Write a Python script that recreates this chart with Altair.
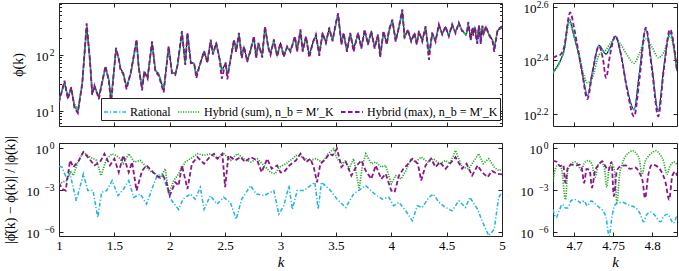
import altair as alt
import pandas as pd

FONT = "Liberation Serif"
INK = "#222222"

SERIES = ["Rational", "Hybrid (sum), n_b = M′_K", "Hybrid (max), n_b = M′_K"]
COLORS = ["#1db3e5", "#1fae1f", "#8a158a"]
DASHES = [[4, 2, 1.2, 2], [1.2, 1.3], [4.5, 2.5]]
WIDTHS = [1.5, 1.8, 2.0]

# ---------------- phi(k), full range (outside the zoom window) ----------------
K_TOP_A = [1.00, 1.05, 1.08, 1.11, 1.14, 1.17, 1.21, 1.25, 1.28, 1.30,
           1.32, 1.36, 1.39, 1.42, 1.45, 1.47, 1.515, 1.54, 1.555, 1.58,
           1.61, 1.65, 1.70, 1.72, 1.75, 1.77, 1.80, 1.84, 1.87, 1.90,
           1.945, 1.99, 2.02, 2.05, 2.07, 2.11, 2.14, 2.16, 2.19, 2.22,
           2.24, 2.28, 2.31, 2.34, 2.37, 2.39, 2.42, 2.45, 2.47, 2.505,
           2.52, 2.55, 2.58, 2.60, 2.625, 2.65, 2.67, 2.70, 2.73, 2.76,
           2.78, 2.80, 2.835, 2.86, 2.89, 2.91, 2.94, 2.97, 3.00, 3.03,
           3.06, 3.09, 3.13, 3.15, 3.18, 3.20, 3.23, 3.26, 3.29, 3.32,
           3.35, 3.38, 3.41, 3.44, 3.47, 3.50, 3.52, 3.55, 3.57, 3.60,
           3.63, 3.66, 3.70, 3.73, 3.76, 3.79, 3.82, 3.85, 3.88, 3.90,
           3.93, 3.96, 3.98, 4.01, 4.04, 4.07, 4.10, 4.12, 4.15, 4.18,
           4.21, 4.23, 4.25, 4.28, 4.31, 4.34, 4.37, 4.40, 4.43, 4.46,
           4.49, 4.52, 4.55, 4.58, 4.61, 4.64]
PHI_REF_A = [15, 32, 17, 25, 12, 9.5, 30, 330, 78, 20,
             27, 17.5, 32, 59, 35, 15, 126, 84, 56, 47,
             26, 48, 178, 59, 25, 48, 39, 165, 52, 45,
             23, 135, 48, 45, 63, 250, 68, 234, 73, 69,
             42, 73, 110, 78, 178, 104, 157, 85, 52, 69,
             42, 84, 178, 118, 234, 90, 135, 78, 118, 204,
             90, 157, 96, 307, 135, 104, 178, 96, 157, 96,
             135, 118, 204, 118, 268, 118, 204, 96, 157, 218,
             104, 234, 165, 288, 178, 355, 530, 157, 234, 118,
             234, 125, 234, 135, 268, 157, 250, 135, 218, 96,
             250, 157, 268, 405, 178, 307, 610, 204, 268, 178,
             234, 157, 250, 178, 307, 104, 234, 178, 330, 234,
             307, 218, 330, 250, 355, 268]
PHI_SUM_A = [16, 30, 18, 24, 13, 10.5, 29, 300, 80, 21,
             26, 18, 31, 60, 36, 16, 120, 86, 55, 48,
             27, 47, 170, 60, 26, 47, 40, 158, 53, 46,
             24, 130, 49, 46, 62, 240, 70, 225, 75, 68,
             44, 72, 112, 80, 170, 106, 152, 88, 54, 68,
             44, 82, 172, 120, 225, 92, 132, 80, 116, 196,
             92, 152, 98, 295, 138, 106, 172, 98, 152, 98,
             132, 120, 198, 120, 258, 120, 198, 98, 152, 210,
             106, 226, 168, 278, 180, 340, 505, 160, 228, 120,
             228, 128, 228, 138, 260, 160, 244, 138, 212, 100,
             244, 160, 260, 390, 182, 300, 585, 206, 262, 182,
             230, 160, 244, 182, 300, 110, 230, 182, 318, 236,
             300, 222, 320, 254, 345, 270]
PHI_MAX_A = [14, 34, 16, 26, 11, 9, 31, 360, 75, 19,
             28, 16, 33, 62, 34, 13, 132, 82, 54, 45,
             24, 50, 185, 57, 23, 50, 37, 172, 50, 42,
             21, 140, 46, 43, 65, 262, 65, 245, 70, 71,
             38, 75, 115, 70, 185, 100, 162, 80, 37, 72,
             36, 86, 185, 112, 244, 86, 140, 74, 122, 212,
             86, 162, 88, 320, 130, 98, 185, 92, 162, 90,
             140, 112, 212, 112, 280, 112, 212, 88, 162, 228,
             95, 244, 160, 300, 172, 370, 545, 150, 244, 112,
             244, 112, 244, 128, 280, 150, 262, 128, 228, 88,
             262, 150, 280, 420, 170, 320, 640, 196, 280, 170,
             244, 150, 262, 170, 320, 80, 244, 170, 345, 228,
             320, 210, 345, 240, 370, 260]

K_TOP_B = [4.855, 4.88, 4.915, 4.93, 4.96, 5.00]
PHI_REF_B = [307, 234, 178, 125, 268, 307]
PHI_SUM_B = [300, 236, 182, 135, 262, 300]
PHI_MAX_B = [320, 228, 170, 112, 280, 320]

# ---------------- phi(k), zoom window ----------------
K_ZOOM = [4.673, 4.681, 4.687, 4.694, 4.700, 4.706, 4.712, 4.717, 4.723, 4.732,
          4.741, 4.747, 4.753, 4.760, 4.768, 4.777, 4.783, 4.792, 4.800, 4.808,
          4.815, 4.823, 4.832]
PHI_REF_ZOOM = [226, 246, 272, 358, 309, 263, 214, 185, 223, 286,
                265, 284, 310, 265, 198, 164, 216, 328, 236, 162,
                236, 319, 229]
PHI_SUM_ZOOM = [226, 245, 272, 347, 309, 269, 224, 207, 214, 263,
                275, 292, 304, 288, 263, 245, 263, 302, 282, 257,
                269, 309, 229]
K_MAX_ZOOM = [4.673, 4.678, 4.682, 4.687, 4.695, 4.700, 4.704, 4.710, 4.717, 4.724,
              4.732, 4.737, 4.741, 4.746, 4.753, 4.760, 4.768, 4.777, 4.784, 4.792,
              4.800, 4.808, 4.815, 4.823, 4.832]
PHI_MAX_ZOOM = [257, 261, 263, 280, 380, 333, 288, 230, 180, 230,
                284, 255, 216, 262, 310, 265, 195, 155, 215, 333,
                230, 155, 230, 328, 229]

# ---------------- relative error, full range (log10 values) ----------------
K_ERR_RAT = [1.0, 1.027, 1.07, 1.10, 1.156, 1.22, 1.26, 1.307, 1.35, 1.385,
             1.43, 1.48, 1.533, 1.584, 1.63, 1.674, 1.734, 1.79, 1.84, 1.885,
             1.93, 1.98, 2.005, 2.08, 2.12, 2.186, 2.23, 2.276, 2.31, 2.366,
             2.427, 2.487, 2.547, 2.60, 2.65, 2.73, 2.78, 2.85, 2.94, 2.985,
             3.03, 3.077, 3.107, 3.15, 3.21, 3.27, 3.31, 3.34, 3.37, 3.44,
             3.51, 3.59, 3.66, 3.77, 3.85, 3.92, 3.98, 4.02, 4.07, 4.13,
             4.19, 4.235, 4.28, 4.34, 4.38, 4.43, 4.49, 4.55, 4.61, 4.67,
             4.71, 4.78, 4.82, 4.88, 4.93, 4.97, 5.0]
LOG_ERR_RAT = [-1.3, -1.37, -2.22, -1.86, -3.79, -1.86, -3.06, -3.06, -4.99, -3.18,
               -3.06, -2.34, -3.42, -2.94, -2.34, -3.54, -3.3, -4.03, -2.94, -1.98,
               -1.86, -2.94, -3.64, -4.41, -3.67, -3.3, -3.67, -2.82, -4.41, -3.42,
               -4.03, -3.54, -3.9, -5.11, -3.67, -2.7, -3.3, -3.42, -3.06, -4.75,
               -4.15, -2.7, -4.41, -3.06, -3.06, -2.7, -2.46, -4.41, -2.46, -2.94,
               -3.67, -4.27, -3.3, -2.7, -3.3, -3.67, -3.54, -4.15, -3.9, -4.51,
               -5.23, -4.15, -4.27, -3.54, -3.3, -3.9, -4.27, -4.51, -3.79, -4.27,
               -3.54, -4.41, -5.23, -6.3, -5.83, -3.54, -3.2]
K_ERR_SUM = [1.0, 1.03, 1.07, 1.10, 1.13, 1.17, 1.22, 1.28, 1.34, 1.38,
             1.43, 1.48, 1.54, 1.58, 1.63, 1.68, 1.734, 1.79, 1.82, 1.87,
             1.91, 1.96, 1.99, 2.036, 2.08, 2.14, 2.186, 2.25, 2.31, 2.37,
             2.43, 2.49, 2.55, 2.61, 2.67, 2.73, 2.79, 2.85, 2.91, 2.95,
             2.99, 3.05, 3.11, 3.14, 3.20, 3.26, 3.32, 3.38, 3.43, 3.48,
             3.51, 3.56, 3.59, 3.62, 3.66, 3.71, 3.74, 3.77, 3.82, 3.86,
             3.91, 3.95, 4.0, 4.04, 4.09, 4.13, 4.18, 4.22, 4.27, 4.33,
             4.38, 4.44, 4.49, 4.53, 4.58, 4.64, 4.70, 4.74, 4.79, 4.83,
             4.88, 4.93, 4.97, 5.0]
LOG_ERR_SUM = [-2.6, -2.46, -2.34, -1.64, -1.98, -1.01, -0.29, -0.65, -0.89, -1.98,
               -0.77, -0.41, -0.65, -1.13, -0.41, -1.01, -0.89, -1.37, -1.64, -1.86,
               -2.22, -1.49, -3.3, -2.34, -1.86, -1.01, -0.77, -0.41, -0.53, -0.41,
               -0.77, -0.41, -0.89, -0.41, -0.77, -1.01, -0.77, -1.25, -1.74, -1.86,
               -1.37, -1.13, -0.77, -0.53, -0.65, -0.89, -0.77, -1.01, -0.41, -0.05,
               -0.77, -1.13, -0.89, -1.49, -0.77, -2.94, -1.25, -0.41, -1.13, -1.01,
               -1.37, -1.25, -2.58, -1.98, -2.22, -1.64, -0.77, -1.01, -0.65, -1.01,
               -0.77, -1.13, -0.89, -1.13, -0.17, -1.37, -1.49, -1.01, -0.41, -1.13,
               -0.77, -1.37, -1.64, -1.5]
K_ERR_MAX = [1.0, 1.03, 1.06, 1.10, 1.13, 1.18, 1.22, 1.26, 1.32, 1.37,
             1.41, 1.46, 1.50, 1.54, 1.58, 1.63, 1.66, 1.70, 1.75, 1.79,
             1.85, 1.90, 1.94, 1.97, 2.0, 2.05, 2.08, 2.11, 2.16, 2.20,
             2.25, 2.31, 2.36, 2.40, 2.43, 2.475, 2.50, 2.53, 2.59, 2.64,
             2.68, 2.73, 2.79, 2.83, 2.88, 2.92, 2.97, 3.0, 3.03, 3.08,
             3.14, 3.18, 3.23, 3.27, 3.30, 3.33, 3.36, 3.41, 3.44, 3.47,
             3.51, 3.55, 3.59, 3.64, 3.69, 3.73, 3.77, 3.82, 3.86, 3.91,
             3.95, 4.0, 4.03, 4.07, 4.11, 4.14, 4.19, 4.24, 4.27, 4.31,
             4.36, 4.40, 4.44, 4.49, 4.53, 4.58, 4.64, 4.68, 4.73, 4.78,
             4.82, 4.87, 4.91, 4.96, 5.0]
LOG_ERR_MAX = [-2.5, -2.94, -3.06, -0.89, -1.37, -0.89, -0.29, -0.65, -1.25, -1.01,
               -0.41, -1.25, -0.77, -1.74, -0.53, -1.74, -1.01, -3.06, -1.64, -1.25,
               -1.74, -2.1, -1.98, -2.46, -3.42, -2.46, -2.7, -1.25, -2.94, -1.13,
               -0.65, -1.13, -0.65, -0.41, -0.77, -0.41, -2.82, -0.53, -0.89, -0.65,
               -1.01, -0.65, -0.89, -1.74, -0.77, -1.49, -1.25, -1.75, -1.74, -1.25,
               -0.89, -0.41, -1.01, -0.77, -1.37, -2.46, -1.13, -0.77, -0.41, -0.53,
               -0.05, -1.37, -1.01, -1.98, -1.25, -0.89, -1.64, -2.22, -1.25, -2.22,
               -1.86, -3.06, -3.18, -1.98, -1.49, -1.25, -0.77, -1.13, -2.34, -1.25,
               -0.77, -1.37, -1.01, -1.49, -1.13, -0.65, -1.49, -1.13, -1.98, -1.25,
               -1.74, -2.1, -1.64, -1.86, -1.9]

# ---------------- relative error, zoom window (log10 values) ----------------
K_ZERR_RAT = [4.673, 4.677, 4.681, 4.685, 4.689, 4.692, 4.696, 4.700, 4.705, 4.709,
              4.713, 4.717, 4.722, 4.728, 4.733, 4.737, 4.741, 4.745, 4.749, 4.753,
              4.757, 4.762, 4.768, 4.773, 4.779, 4.785, 4.789, 4.793, 4.798, 4.803,
              4.807, 4.811, 4.815, 4.820, 4.824, 4.827, 4.832]
LOG_ZERR_RAT = [-4.4, -5.0, -4.5, -4.05, -4.3, -4.3, -3.8, -3.7, -3.8, -3.95,
                -3.8, -4.15, -3.8, -4.05, -4.3, -4.5, -5.0, -6.3, -4.8, -4.05,
                -3.95, -3.9, -4.05, -4.15, -4.3, -4.75, -5.3, -4.8, -4.6, -4.8,
                -5.1, -5.3, -4.9, -4.75, -5.1, -5.4, -4.8]
K_ZERR_SUM = [4.673, 4.676, 4.680, 4.684, 4.689, 4.692, 4.697, 4.702, 4.706, 4.709,
              4.713, 4.718, 4.723, 4.727, 4.731, 4.735, 4.739, 4.742, 4.745, 4.749,
              4.752, 4.755, 4.758, 4.762, 4.766, 4.770, 4.775, 4.780, 4.784, 4.787,
              4.791, 4.796, 4.801, 4.805, 4.810, 4.815, 4.819, 4.823, 4.828, 4.832]
LOG_ZERR_SUM = [-2.4, -1.5, -1.2, -1.5, -3.7, -1.6, -1.1, -1.0, -1.3, -1.6,
                -1.1, -0.9, -1.2, -2.1, -1.2, -1.0, -1.5, -2.8, -1.4, -1.2,
                -1.7, -3.9, -2.1, -1.1, -0.6, -0.35, -0.2, -0.4, -0.9, -1.9,
                -1.0, -0.55, -0.3, -0.2, -0.45, -1.0, -1.9, -1.3, -1.0, -1.2]
K_ZERR_MAX = [4.673, 4.678, 4.682, 4.686, 4.689, 4.692, 4.697, 4.702, 4.707, 4.710,
              4.713, 4.716, 4.720, 4.723, 4.727, 4.732, 4.736, 4.740, 4.744, 4.748,
              4.751, 4.755, 4.760, 4.766, 4.772, 4.778, 4.784, 4.788, 4.791, 4.795,
              4.800, 4.806, 4.812, 4.817, 4.822, 4.826, 4.830, 4.832]
LOG_ZERR_MAX = [-0.9, -1.0, -1.3, -1.2, -2.5, -1.4, -1.2, -1.25, -1.2, -1.5,
                -2.5, -1.5, -1.6, -2.85, -1.6, -1.2, -0.95, -1.3, -1.6, -1.0,
                -3.45, -1.6, -1.3, -1.25, -1.5, -1.4, -1.8, -2.4, -3.6, -2.0,
                -1.2, -1.3, -1.7, -2.4, -3.7, -2.0, -1.7, -2.0]

# axis ticks
K_TICKS_FULL = [1, 1.5, 2, 2.5, 3, 3.5, 4, 4.5, 5]
K_TICKS_ZOOM = [4.7, 4.75, 4.8]
PHI_EXPS_FULL = [1, 2]
PHI_EXPS_ZOOM = [2.2, 2.4, 2.6]
ERR_EXPS = [0, -3, -6]
PHI_MINOR = [6, 7, 8, 9, 20, 30, 40, 50, 60, 70, 80, 90, 200, 300, 400, 500, 600, 700, 800]


def frame(parts):
    rows = []
    for name, ks, vs in parts:
        for k, v in zip(ks, vs):
            rows.append({"k": k, "v": v, "series": name})
    return pd.DataFrame(rows)


def from_log(vals):
    return [10.0 ** e for e in vals]


def panel(lines, xdom, ydom, xticks, yexps, expo_fmt, base_pad, w, h, ref=None,
          minor=None, xtitle=None, ytitle=None, ytitle_x=-46, legend=None,
          interp="linear"):
    xs = alt.Scale(domain=xdom, nice=False, zero=False)
    ys = alt.Scale(type="log", domain=ydom, nice=False)
    yvals = [10.0 ** e for e in yexps]

    x_main = alt.Axis(values=xticks, orient="bottom", labels=xtitle is not None,
                      format="~g", labelFlush=False, labelFont=FONT, labelFontSize=13,
                      labelColor="black", labelPadding=3, tickSize=4, offset=-4,
                      tickColor=INK, domain=False, grid=False, titleFont=FONT,
                      titleFontSize=15, titleFontStyle="italic", titleFontWeight="normal",
                      titleColor="black", titlePadding=2)
    y_main = alt.Axis(values=yvals, orient="left", labelExpr="'10'", labelFont=FONT,
                      labelFontSize=13, labelColor="black", labelPadding=base_pad,
                      labelOffset=1.5, tickSize=4, offset=-4, tickColor=INK, domain=False,
                      grid=False, titleFont=FONT, titleFontSize=14, titleFontWeight="normal",
                      titleColor="black", titleX=ytitle_x, titleY=h / 2,
                      titleBaseline="middle")
    y_expo = alt.Axis(values=yvals, orient="left", labelExpr=expo_fmt, labelFont=FONT,
                      labelFontSize=9.5, labelColor="black", labelPadding=5, labelOffset=-2.5,
                      ticks=False, tickSize=0, domain=False, grid=False)
    x_top = alt.Axis(values=xticks, orient="top", labels=False, tickSize=4, offset=-4,
                     tickColor=INK, domain=False, grid=False)
    y_right = alt.Axis(values=yvals, orient="right", labels=False, tickSize=4, offset=-4,
                       tickColor=INK, domain=False, grid=False)

    style = dict(
        color=alt.Color("series:N", scale=alt.Scale(domain=SERIES, range=COLORS), legend=legend),
        strokeDash=alt.StrokeDash("series:N", scale=alt.Scale(domain=SERIES, range=DASHES), legend=legend),
        strokeWidth=alt.StrokeWidth("series:N", scale=alt.Scale(domain=SERIES, range=WIDTHS), legend=legend),
    )

    layers = []
    if ref is not None:
        layers.append(
            alt.Chart(ref).mark_line(clip=True, color="black", strokeWidth=1.1, interpolate=interp)
            .encode(x=alt.X("k:Q", scale=xs, axis=None), y=alt.Y("v:Q", scale=ys, axis=None))
        )
    layers.append(
        alt.Chart(lines).mark_line(clip=True, interpolate=interp).encode(
            x=alt.X("k:Q", scale=xs, axis=x_main, title=xtitle),
            y=alt.Y("v:Q", scale=ys, axis=y_main, title=ytitle),
            **style,
        )
    )
    ghost = alt.Chart(lines).mark_line(opacity=0)
    layers.append(ghost.encode(x=alt.X("k:Q", scale=xs, axis=None),
                               y=alt.Y("v:Q", scale=ys, axis=y_expo, title=None),
                               detail="series:N"))
    layers.append(ghost.encode(x=alt.X("k:Q", scale=xs, axis=x_top, title=None),
                               y=alt.Y("v:Q", scale=ys, axis=y_right, title=None),
                               detail="series:N"))
    if minor is not None:
        for side in ("left", "right"):
            ax = alt.Axis(values=minor, orient=side, labels=False, tickSize=2.5, offset=-2.5,
                          tickColor=INK, domain=False, grid=False)
            layers.append(ghost.encode(x=alt.X("k:Q", scale=xs, axis=None),
                                       y=alt.Y("v:Q", scale=ys, axis=ax, title=None),
                                       detail="series:N"))
    return (alt.layer(*layers)
            .resolve_axis(x="independent", y="independent")
            .properties(width=w, height=h))


# assembled data
top_full = frame([
    (SERIES[0], K_TOP_A + K_ZOOM + K_TOP_B, PHI_REF_A + PHI_REF_ZOOM + PHI_REF_B),
    (SERIES[1], K_TOP_A + K_ZOOM + K_TOP_B, PHI_SUM_A + PHI_SUM_ZOOM + PHI_SUM_B),
    (SERIES[2], K_TOP_A + K_MAX_ZOOM + K_TOP_B, PHI_MAX_A + PHI_MAX_ZOOM + PHI_MAX_B),
])
ref_full = frame([("ref", K_TOP_A + K_ZOOM + K_TOP_B, PHI_REF_A + PHI_REF_ZOOM + PHI_REF_B)])
top_zoom = frame([
    (SERIES[0], K_ZOOM, PHI_REF_ZOOM),
    (SERIES[1], K_ZOOM, PHI_SUM_ZOOM),
    (SERIES[2], K_MAX_ZOOM, PHI_MAX_ZOOM),
])
ref_zoom = frame([("ref", K_ZOOM, PHI_REF_ZOOM)])
err_full = frame([
    (SERIES[0], K_ERR_RAT, from_log(LOG_ERR_RAT)),
    (SERIES[1], K_ERR_SUM, from_log(LOG_ERR_SUM)),
    (SERIES[2], K_ERR_MAX, from_log(LOG_ERR_MAX)),
])
err_zoom = frame([
    (SERIES[0], K_ZERR_RAT, from_log(LOG_ZERR_RAT)),
    (SERIES[1], K_ZERR_SUM, from_log(LOG_ZERR_SUM)),
    (SERIES[2], K_ZERR_MAX, from_log(LOG_ZERR_MAX)),
])

legend = alt.Legend(orient="none", legendX=42, legendY=95, direction="horizontal",
                    title=None, symbolType="stroke", symbolSize=484, labelFont=FONT,
                    labelFontSize=12, labelColor="black", labelOffset=3, columnPadding=3,
                    padding=2, strokeColor=INK, fillColor="white", labelLimit=0)

INT_EXP = "format(log(datum.value) / LN10, 'd')"
DEC_EXP = "format(log(datum.value) / LN10, '.1f')"
ERR_PAD = {"condition": {"test": "datum.value < 0.5", "value": 20}, "value": 11}
TOP_H, BOT_H = 123, 93

tl = panel(top_full, [1, 5], [5.3, 830], K_TICKS_FULL, PHI_EXPS_FULL, INT_EXP, 11, 443, TOP_H,
           ref=ref_full, minor=PHI_MINOR, ytitle="ϕ(k)", ytitle_x=-45, legend=legend)
tr = panel(top_zoom, [4.673, 4.832], [142.6, 412], K_TICKS_ZOOM, PHI_EXPS_ZOOM, DEC_EXP, 17,
           124, TOP_H, ref=ref_zoom, interp="monotone")
bl = panel(err_full, [1, 5], [4.8e-7, 2.29], K_TICKS_FULL, ERR_EXPS, INT_EXP, ERR_PAD, 443,
           BOT_H, xtitle="k", ytitle="|ϕ̂(k) − ϕ(k)| / |ϕ(k)|", ytitle_x=-53)
br = panel(err_zoom, [4.673, 4.832], [4.8e-7, 2.29], K_TICKS_ZOOM, ERR_EXPS, INT_EXP, ERR_PAD,
           124, BOT_H, xtitle="k", interp="monotone")

chart = (
    alt.concat(tl, tr, bl, br, columns=2, spacing={"row": 17, "column": 51}, bounds="flush")
    .resolve_scale(color="independent", strokeDash="independent", strokeWidth="independent")
    .resolve_legend(color="independent", strokeDash="independent", strokeWidth="independent")
    .properties(padding={"left": 2, "top": -2, "right": 0, "bottom": 0}, background="white")
    .configure_view(stroke=INK, strokeWidth=1)
)

chart.save("out.html", embed_options={"renderer": "svg", "actions": False})
